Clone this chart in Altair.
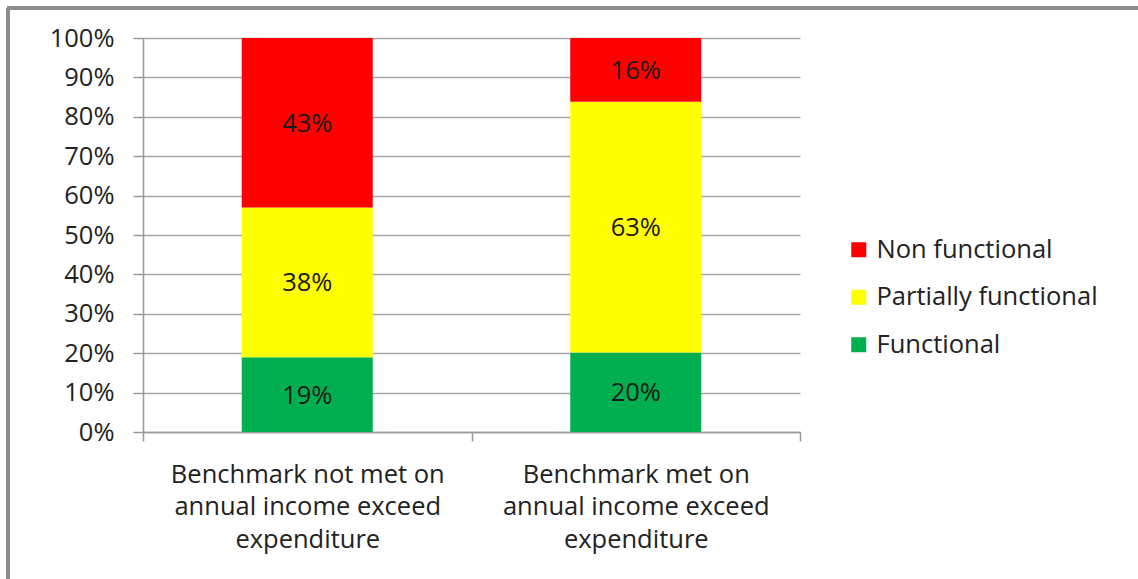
import altair as alt
import pandas as pd

# Groups on the x axis (line breaks inside each label)
groups = [
    "Benchmark not met on\nannual income exceed\nexpenditure",
    "Benchmark met on\nannual income exceed\nexpenditure",
]
# Functionality status, bottom of the stack first
statuses = ["Functional", "Partially functional", "Non functional"]
status_colors = ["#00B050", "#FFFF00", "#FF0000"]

# Percentages per group, in status order
functional = [19, 20]
partially_functional = [38, 63]
non_functional = [43, 16]

# Y axis ticks (fractions of the whole)
y_ticks = [0, 0.1, 0.2, 0.3, 0.4, 0.5, 0.6, 0.7, 0.8, 0.9, 1.0]

rows = []
for i, g in enumerate(groups):
    for rank, (s, vals) in enumerate(
        zip(statuses, [functional, partially_functional, non_functional])
    ):
        rows.append({"group": g, "status": s, "rank": rank, "value": vals[i]})
df = pd.DataFrame(rows)

font = "Open Sans"
fsize = 25.5
text_color = "#222222"
axis_gray = "#999999"

base = alt.Chart(df).transform_stack(
    stack="value",
    groupby=["group"],
    as_=["y0", "y1"],
    offset="normalize",
    sort=[alt.SortField("rank", order="ascending")],
).transform_calculate(
    mid="(datum.y0 + datum.y1) / 2",
    label="datum.value + '%'",
)

x_axis = alt.Axis(
    labelAngle=0,
    labelExpr="datum.value ? split(datum.value, '\\n') : ''",
    labelFont=font,
    labelFontSize=fsize,
    labelColor=text_color,
    labelLineHeight=32.5,
    labelPadding=21,
    labelBaseline="top",
    labelLimit=0,
    tickBand="extent",
    tickSize=9,
    tickColor=axis_gray,
    tickWidth=1.5,
    domainColor=axis_gray,
    domainWidth=1.5,
    grid=False,
)
x_scale = alt.Scale(paddingInner=0, paddingOuter=0)

y_axis = alt.Axis(
    format="%",
    values=y_ticks,
    labelOverlap=False,
    labelFont=font,
    labelFontSize=fsize,
    labelColor=text_color,
    labelPadding=19,
    tickSize=10,
    tickColor=axis_gray,
    tickWidth=1.5,
    domainColor=axis_gray,
    domainWidth=1.5,
    grid=True,
    gridColor="#a6a6a6",
    gridWidth=1.5,
)
y_scale = alt.Scale(domain=[0, 1])

legend_order = statuses[::-1]

bars = base.mark_bar(size=131).encode(
    x=alt.X("group:N", sort=groups, title=None, scale=x_scale, axis=x_axis),
    y=alt.Y("y0:Q", title=None, scale=y_scale, axis=y_axis),
    y2="y1:Q",
    color=alt.Color(
        "status:N",
        scale=alt.Scale(domain=legend_order, range=status_colors[::-1]),
        legend=alt.Legend(
            title=None,
            orient="none",
            legendX=703,
            legendY=199,
            symbolType="square",
            symbolSize=225,
            symbolStrokeWidth=0,
            labelFont=font,
            labelFontSize=fsize,
            labelColor=text_color,
            labelOffset=5,
            labelLimit=0,
            rowPadding=20.5,
        ),
    ),
    order=alt.Order("rank:Q"),
)

texts = base.mark_text(font=font, fontSize=fsize, color="#1a1a1a", dy=1).encode(
    x=alt.X("group:N", sort=groups, title=None, scale=x_scale, axis=x_axis),
    y=alt.Y("mid:Q", title=None, scale=y_scale, axis=y_axis),
    text="label:N",
)

# Outer frame: left and top edges of the chart box
frame_left = alt.Chart(df).mark_rule(color="#8c8c8c", strokeWidth=3).encode(
    x=alt.value(-135), y=alt.value(-30), y2=alt.value(560)
)
frame_top = alt.Chart(df).mark_rule(color="#8c8c8c", strokeWidth=3).encode(
    x=alt.value(-136), x2=alt.value(1000), y=alt.value(-30)
)

chart = alt.layer(bars, texts, frame_left, frame_top).properties(
    width=657,
    height=394,
    autosize=alt.AutoSizeParams(type="none"),
    padding={"left": 143, "top": 38, "right": 338, "bottom": 147},
    background="white",
).configure_view(stroke=None)

chart.save("out.html", embed_options={"renderer": "svg", "actions": False})
